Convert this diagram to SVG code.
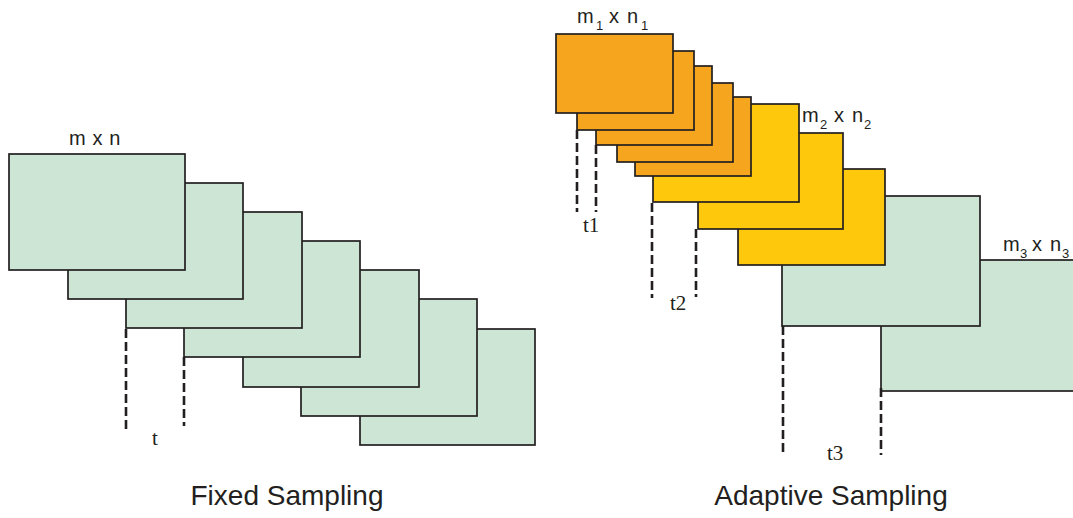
<svg xmlns="http://www.w3.org/2000/svg" width="1073" height="518" viewBox="0 0 1073 518">
<style>
.g{fill:#cce5d5;stroke:#231f20;stroke-width:1.7}
.o{fill:#f6a51e;stroke:#231f20;stroke-width:1.7}
.y{fill:#fec90c;stroke:#231f20;stroke-width:1.7}
.d{stroke:#231f20;stroke-width:2.6;stroke-dasharray:9 4;fill:none}
.lab{font-family:"Liberation Sans",Arial,sans-serif;font-size:20px;fill:#231f20}
.sub{font-size:13px}
.t{font-family:"Liberation Serif","Times New Roman",serif;font-size:21px;fill:#231f20}
.cap{font-family:"Liberation Sans",Arial,sans-serif;font-size:28px;fill:#231f20;text-anchor:middle}
</style>
<rect width="1073" height="518" fill="#fff"/>
<g id="fixed">
<g id="f7"><rect class="g" x="360" y="329" width="175" height="116"/></g>
<g id="f6"><rect class="g" x="301" y="299" width="176" height="117"/></g>
<g id="f5"><rect class="g" x="243" y="270" width="176" height="117"/></g>
<g id="f4"><rect class="g" x="184" y="241" width="176" height="116"/></g>
<g id="f3"><rect class="g" x="126" y="212" width="176" height="116"/></g>
<g id="f2"><rect class="g" x="68" y="183" width="175" height="116"/></g>
<g id="f1"><rect class="g" x="9" y="154" width="176" height="116"/></g>
</g>
<g id="adaptive">
<g id="g2"><rect class="g" x="881" y="260" width="200" height="131"/></g>
<g id="g1"><rect class="g" x="782" y="196" width="198" height="130"/></g>
<g id="y3"><rect class="y" x="738" y="169" width="147" height="96"/></g>
<g id="y2"><rect class="y" x="698" y="133" width="145" height="96"/></g>
<g id="y1"><rect class="y" x="653" y="104" width="146" height="98"/></g>
<g id="o5"><rect class="o" x="635" y="97" width="116" height="79"/></g>
<g id="o4"><rect class="o" x="617" y="83" width="116" height="79"/></g>
<g id="o3"><rect class="o" x="596" y="66" width="116" height="79"/></g>
<g id="o2"><rect class="o" x="577" y="51" width="117" height="79"/></g>
<g id="o1"><rect class="o" x="556" y="34" width="117" height="79"/></g>
</g>
<g id="connectors">
<line class="d" x1="126" y1="329" x2="126" y2="431"/>
<line class="d" x1="184" y1="357" x2="184" y2="426"/>
<line class="d" x1="577" y1="130" x2="577" y2="212"/>
<line class="d" x1="596" y1="145" x2="596" y2="212"/>
<line class="d" x1="652" y1="203" x2="652" y2="298"/>
<line class="d" x1="696" y1="229" x2="696" y2="297"/>
<line class="d" x1="783" y1="326" x2="783" y2="453"/>
<line class="d" x1="881" y1="388" x2="881" y2="455"/>
</g>
<g id="labels">
<text class="lab" x="69" y="145" letter-spacing="0.6">m x n</text>
<text class="lab" y="23"><tspan x="577">m</tspan><tspan class="sub" x="596" dy="7">1</tspan><tspan x="609" dy="-7">x</tspan><tspan x="627">n</tspan><tspan class="sub" x="641" dy="7">1</tspan></text>
<text class="lab" y="122"><tspan x="802">m</tspan><tspan class="sub" x="820" dy="7">2</tspan><tspan x="834" dy="-7">x</tspan><tspan x="852">n</tspan><tspan class="sub" x="864" dy="7">2</tspan></text>
<text class="lab" y="251"><tspan x="1003">m</tspan><tspan class="sub" x="1020" dy="7">3</tspan><tspan x="1032" dy="-7">x</tspan><tspan x="1050">n</tspan><tspan class="sub" x="1062" dy="7">3</tspan></text>
<text class="t" x="152" y="445">t</text>
<text class="t" x="583" y="232">t1</text>
<text class="t" x="670" y="310">t2</text>
<text class="t" x="827" y="460">t3</text>
<text class="cap" x="287" y="505">Fixed Sampling</text>
<text class="cap" x="831" y="505">Adaptive Sampling</text>
</g>
</svg>
